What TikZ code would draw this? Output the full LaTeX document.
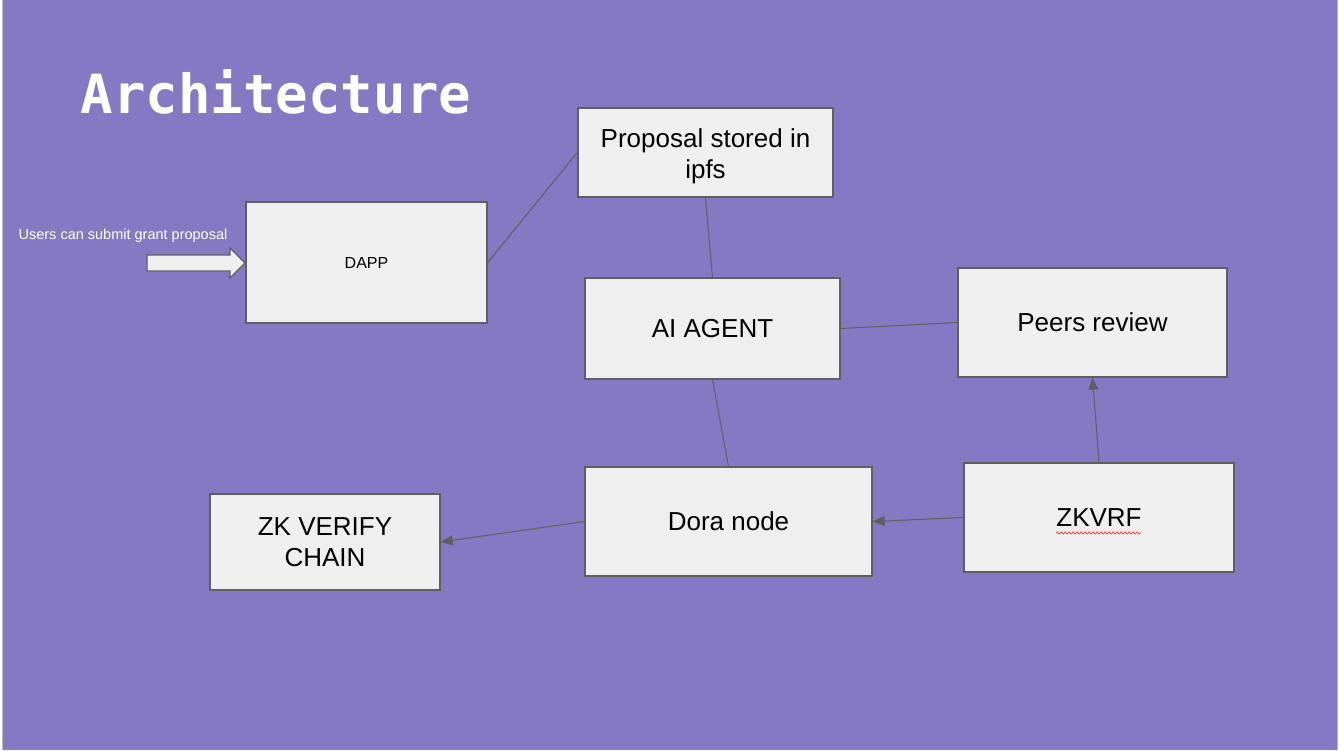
\documentclass[tikz,border=0pt]{standalone}
\usepackage{fontspec}
\setmainfont{Liberation Sans}
\newfontfamily\titlefont{DejaVu Sans Mono}
\usetikzlibrary{arrows.meta,decorations.pathmorphing,calc}
\definecolor{bgpurple}{HTML}{8679C3}
\definecolor{boxfill}{HTML}{EFEFEF}
\definecolor{edgegray}{HTML}{5F5F5F}
\definecolor{sidegray}{HTML}{B8B8B8}
\begin{document}
\begin{tikzpicture}[x=1pt,y=-1pt,
  boxnode/.style={draw=edgegray, line width=1.3pt, fill=boxfill, inner sep=0pt,
    align=center, text=black, font=\fontsize{26}{31}\selectfont},
  link/.style={draw=edgegray, line width=1pt},
  arrowlink/.style={link, -{Triangle[length=12pt,width=10pt]}}]
\useasboundingbox (0,0) rectangle (1339,750);
\fill[white] (0,0) rectangle (1339,750);
\fill[bgpurple] (3,0) rectangle (1337,750);
\draw[sidegray, line width=1.2pt] (2.5,0) -- (2.5,750);
\draw[sidegray, line width=1.2pt] (1337.5,0) -- (1337.5,750);

\node[text=white, font=\titlefont\bfseries\fontsize{54}{60}\selectfont, anchor=base] (title) at (276,113) {Architecture};

\node[boxnode, minimum width=241pt, minimum height=121pt, font=\fontsize{16}{19}\selectfont] (dapp) at (366.5,262.5) {DAPP};
\node[boxnode, minimum width=255pt, minimum height=89pt] (prop) at (705.5,152.5) {\rule{0pt}{26pt}Proposal stored in\\ipfs};
\node[boxnode, minimum width=255pt, minimum height=101pt] (ai) at (712.5,328.5) {AI AGENT};
\node[boxnode, minimum width=269pt, minimum height=109pt] (peers) at (1092.5,322.5) {Peers review};
\node[boxnode, minimum width=270pt, minimum height=109pt] (zkvrf) at (1099,517.5) {ZKVRF};
\node[boxnode, minimum width=287pt, minimum height=109pt] (dora) at (728.5,521.5) {Dora node};
\node[boxnode, minimum width=230pt, minimum height=96pt] (zkv) at (325,542) {ZK VERIFY\\CHAIN};

\node[text=white, font=\fontsize{14.5}{17}\selectfont] (users) at (123,236) {Users can submit grant proposal};

\draw[draw=edgegray, line width=1.2pt, fill=boxfill]
  (147,255) -- (230,255) -- (230,248) -- (245,263) -- (230,278) -- (230,271) -- (147,271) -- cycle;

\draw[link] (dapp.east) -- (prop.west);
\draw[link] (prop.south) -- (ai.north);
\draw[link] (ai.east) -- (peers.west);
\draw[link] (ai.south) -- (dora.north);
\draw[arrowlink] (zkvrf.north) -- (peers.south);
\draw[arrowlink] (zkvrf.west) -- (dora.east);
\draw[arrowlink] (dora.west) -- (zkv.east);

\draw[red!75, line width=0.7pt, decorate, decoration={snake, amplitude=1.2pt, segment length=4pt}]
  ([xshift=-43pt,yshift=-15.5pt]zkvrf.center) -- ([xshift=42pt,yshift=-15.5pt]zkvrf.center);
\end{tikzpicture}
\end{document}
